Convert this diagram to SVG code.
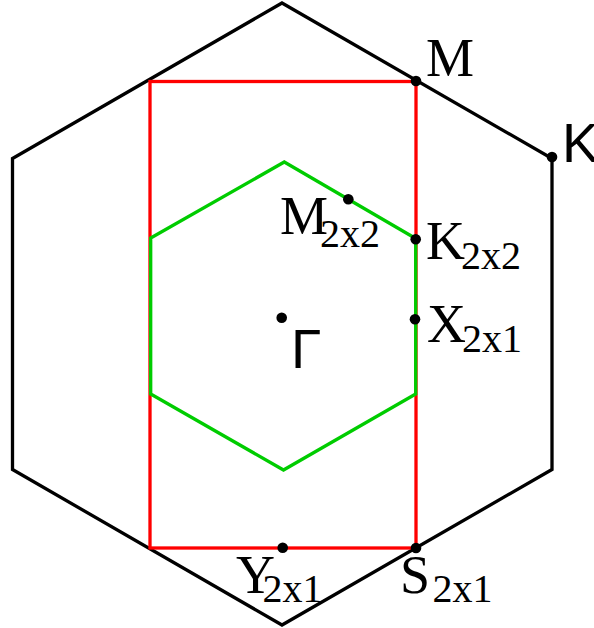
<svg xmlns="http://www.w3.org/2000/svg" width="594" height="628" viewBox="0 0 594 628">
<style>
.hex{fill:none;stroke:#000;stroke-width:3.3;stroke-linejoin:miter}
.rect{fill:none;stroke:#ff0000;stroke-width:3.3}
.green{fill:none;stroke:#00cc00;stroke-width:3.3}
.dot{fill:#000}
.lbl{font-family:"Liberation Serif","Times New Roman",serif;font-size:54px;fill:#000}
.sub{font-family:"Liberation Serif","Times New Roman",serif;font-size:40px;fill:#000}
.sans{font-family:"Liberation Sans",Arial,sans-serif;font-size:55px;fill:#000}
</style>
<g id="connectors">
<polygon id="outer-hexagon" class="hex" points="282,3 552,158.5 552,469.5 282,625 12.5,469.5 12.5,158.5"/>
<rect id="red-rect" class="rect" x="150" y="81.5" width="266" height="466.5"/>
<polygon id="green-hexagon" class="green" points="284.3,162 415.7,238.5 415.7,394 283.5,470 150.7,394 150.7,238"/>
</g>
<g id="M"><circle class="dot" cx="416" cy="81" r="5.3"/><text class="lbl" x="426" y="76">M</text></g>
<g id="K"><circle class="dot" cx="552" cy="157" r="5.3"/><text class="sans" x="562" y="162">K</text></g>
<g id="M2x2"><circle class="dot" cx="348.3" cy="199.3" r="5.3"/><text class="lbl" x="280" y="234">M</text><text class="sub" x="320" y="246.7">2x2</text></g>
<g id="K2x2"><circle class="dot" cx="415.7" cy="239.3" r="5.3"/><text class="lbl" x="426" y="259.3">K</text><text class="sub" x="461" y="269.3">2x2</text></g>
<g id="X2x1"><circle class="dot" cx="415" cy="319.3" r="5.3"/><text class="lbl" x="427" y="341.7">X</text><text class="sub" x="462" y="351.7">2x1</text></g>
<g id="Gamma"><circle class="dot" cx="281.7" cy="317.7" r="5.3"/><text class="sans" x="291" y="368">Γ</text></g>
<g id="Y2x1"><circle class="dot" cx="282.7" cy="547.7" r="5.3"/><text class="lbl" x="236" y="593.3">Y</text><text class="sub" x="262.5" y="601.7">2x1</text></g>
<g id="S2x1"><circle class="dot" cx="416" cy="548" r="5.3"/><text class="lbl" x="400" y="593.3">S</text><text class="sub" x="432.5" y="601.7">2x1</text></g>
</svg>
